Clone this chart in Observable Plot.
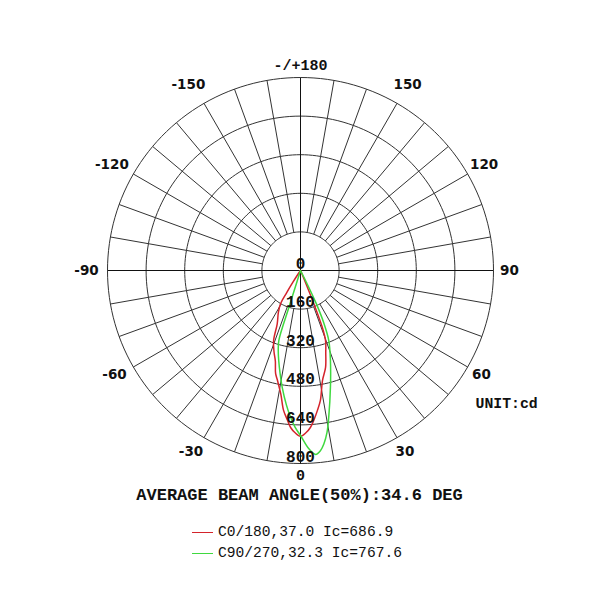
<!DOCTYPE html>
<html><head><meta charset="utf-8">
<script src="https://cdn.jsdelivr.net/npm/d3@7"></script>
<script src="https://cdn.jsdelivr.net/npm/@observablehq/plot@0.6"></script>
<style>
body{margin:0;background:#fff;}
#legend{margin-left:192px;padding-top:20px;font-family:"Liberation Mono",monospace;font-size:14.6px;line-height:21px;color:#111;white-space:pre}
.sw{display:inline-block;width:21px;height:1px;vertical-align:middle;margin-right:5px}
</style></head><body>
<div id="chart"></div>
<div id="legend"></div>
<script>
// ---- data ----
const angleTicks = [0, 30, 60, 90, 120, 150, 180, -150, -120, -90, -60, -30];
const angleTickLabels = ["0", "30", "60", "90", "120", "150", "-/+180", "-150", "-120", "-90", "-60", "-30"];
const radialTicks = [0, 160, 320, 480, 640, 800];
const radialTickLabels = ["0", "160", "320", "480", "640", "800"];
const seriesNames = ["C0/180,37.0 Ic=686.9", "C90/270,32.3 Ic=767.6"];
const seriesColors = ["#d4232b", "#3fd93f"];
const redAngles = [-90, -50, -36, -34, -33, -32, -31, -28, -23.6, -21, -18, -15.5, -13.6, -11.8, -9, -6.9, -5, -3.6, -2, 0, 2, 3.6, 5, 6.9, 8.7, 11.3, 14.5, 17, 19.7, 21, 22, 23, 25, 50, 90];
const redValues = [0, 0, 0, 20, 60, 110, 160, 195, 241, 311, 355, 390, 439, 466, 520, 584, 622, 652, 672, 687, 672, 652, 625, 584, 545, 465, 415, 358, 308, 250, 130, 30, 0, 0, 0];
const greenAngles = [-90, -40, -18, -17.4, -17.2, -15.5, -13.6, -11, -8.9, -6, -3.9, -2, 0, 2.7, 4.7, 6.3, 7.7, 9.3, 10.9, 14.4, 18.4, 22, 24, 25.5, 26.5, 28, 50, 90];
const greenValues = [0, 0, 0, 150, 304, 345, 384, 440, 490, 560, 609, 650, 684, 740, 765, 752, 725, 680, 619, 499, 393, 313, 235, 150, 60, 0, 0, 0];
const title = "AVERAGE BEAM ANGLE(50%):34.6 DEG";
const unitLabel = "UNIT:cd";

// ---- geometry ----
const W = 598, H = 502, cx = 300, cy = 270, Rpx = 193;
const Rmax = radialTicks[radialTicks.length - 1];
const k = Rmax / Rpx;
const rad = a => a * Math.PI / 180;
const px = (a, v) => v * Math.sin(rad(a));
const py = (a, v) => v * Math.cos(rad(a));

const circles = [];
radialTicks.filter(r => r > 0).forEach(r => {
  for (let a = 0; a <= 360; a += 2) circles.push({r, a});
});
const spokes = d3.range(-170, 190, 10).filter(a => a % 90 !== 0);
const inner = radialTicks[1];
const crossAngles = [0, 90];

const toPts = (angles, values) => angles.map((a, i) => ({x: px(a, values[i]), y: py(a, values[i])}));
const redPts = toPts(redAngles, redValues);
const greenPts = toPts(greenAngles, greenValues);

// label radius grows slightly for the upper labels (as in the reference)
const labelR = a => (209 + 6 * Math.max(0, -Math.cos(rad(a)))) * k;
const sansFont = "DejaVu Sans";
const monoFont = "Liberation Mono";
const sansTicks = angleTicks.filter(a => a !== 0 && a !== 180);
const monoTicks = angleTicks.filter(a => a === 0 || a === 180);

const chart = Plot.plot({
  width: W, height: H, margin: 0,
  x: {domain: [-cx * k, (W - cx) * k], range: [0, W], axis: null},
  y: {domain: [-cy * k, (H - cy) * k], range: [0, H], axis: null},
  style: {background: "white", overflow: "visible"},
  marks: [
    Plot.line(circles, {x: d => px(d.a, d.r), y: d => py(d.a, d.r), z: "r", stroke: "#333", strokeWidth: 1}),
    Plot.link(spokes, {x1: a => px(a, inner), y1: a => py(a, inner), x2: a => px(a, Rmax), y2: a => py(a, Rmax), stroke: "#333", strokeWidth: 1}),
    Plot.link(crossAngles, {x1: a => px(a, -Rmax), y1: a => py(a, -Rmax), x2: a => px(a, Rmax), y2: a => py(a, Rmax), stroke: "#111", strokeWidth: 1}),
    Plot.line(redPts, {x: "x", y: "y", stroke: seriesColors[0], strokeWidth: 1.5, curve: "catmull-rom"}),
    Plot.line(greenPts, {x: "x", y: "y", stroke: seriesColors[1], strokeWidth: 1.5, curve: "catmull-rom"}),
    Plot.text(radialTicks, {x: 0, y: d => d, text: (d, i) => radialTickLabels[i], dy: -7, fontFamily: monoFont, fontWeight: "bold", fontSize: 16, fill: "#111"}),
    Plot.text(sansTicks, {
      x: a => px(a, labelR(a)), y: a => py(a, labelR(a)),
      text: a => angleTickLabels[angleTicks.indexOf(a)],
      fontFamily: sansFont, fontWeight: "bold", fontSize: 13.5, fill: "#111"
    }),
    Plot.text(monoTicks, {
      x: a => px(a, 205 * k), y: a => py(a, 205 * k),
      text: a => angleTickLabels[angleTicks.indexOf(a)],
      fontFamily: monoFont, fontWeight: "bold", fontSize: 15, fill: "#111"
    }),
    Plot.text([title], {frameAnchor: "bottom", text: d => d, dy: -8, lineAnchor: "middle", fontFamily: monoFont, fontWeight: "bold", fontSize: 17, fill: "#111"}),
    Plot.text([unitLabel], {frameAnchor: "top-left", text: d => d, dx: 475, dy: 403, textAnchor: "start", lineAnchor: "middle", fontFamily: monoFont, fontWeight: "bold", fontSize: 14.8, fill: "#111"})
  ]
});
// shift negative angle labels so the digits stay centred
chart.querySelectorAll("text").forEach(t => {
  if (/^-\d/.test(t.textContent)) t.setAttribute("dx", "-5");
});
document.getElementById("chart").appendChild(chart);

const legend = document.getElementById("legend");
seriesNames.forEach((n, i) => {
  const row = document.createElement("div");
  const sw = document.createElement("span");
  sw.className = "sw"; sw.style.background = seriesColors[i];
  row.appendChild(sw);
  row.appendChild(document.createTextNode(n));
  legend.appendChild(row);
});
</script>
</body></html>
